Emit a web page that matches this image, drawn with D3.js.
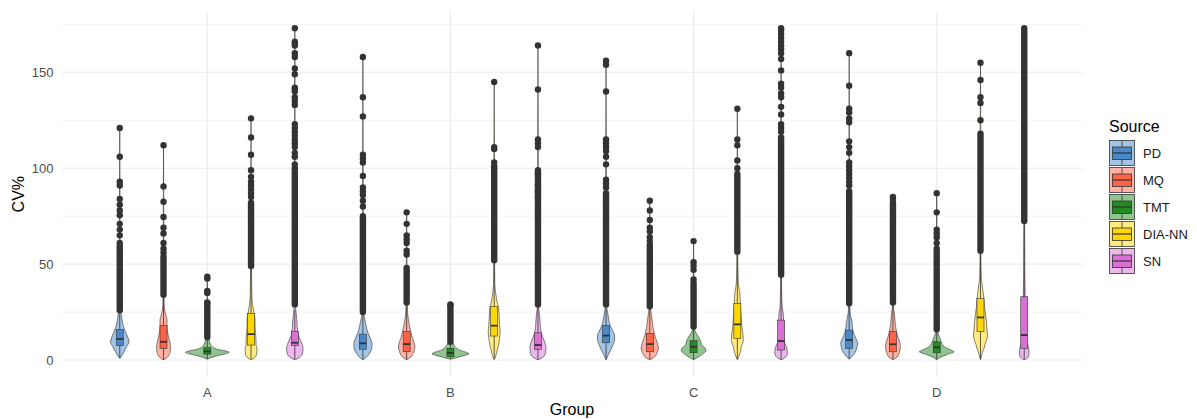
<!DOCTYPE html>
<html>
<head>
<meta charset="utf-8">
<script src="https://cdn.jsdelivr.net/npm/d3@7"></script>
<style>
  body { margin: 0; background: #fff; }
  svg { display: block; font-family: "Liberation Sans", Arial, sans-serif; }
</style>
</head>
<body>
<svg id="chart" width="1197" height="419"></svg>
<script>
const groups = ['A', 'B', 'C', 'D'];
const sources = ['PD', 'MQ', 'TMT', 'DIA-NN', 'SN'];
const sourceColors = ['#4a89c8', '#ff6347', '#228b22', '#ffd700', '#da70d6'];
const yTicks = [0, 50, 100, 150];
const yMinorTicks = [25, 75, 125, 175];

// box statistics, one row per group, one column per source
const whiskerLow = [
  [1, 0.3, 0.5, 0.3, 0.5],
  [0.3, 0.3, 0.5, 0.5, 0.3],
  [0.3, 0.3, 0.3, 0.5, 0.3],
  [0.5, 0.3, 0.3, 0.5, 0.3],
];
const q1 = [
  [7.5, 6, 3.1, 7.8, 7.5],
  [5.6, 4.3, 1.7, 12.5, 5.6],
  [9, 4.3, 3.8, 11.3, 5.2],
  [6.1, 4.3, 3.8, 14.8, 6.1],
];
const median = [
  [11, 9.5, 4.5, 13.5, 9],
  [8.7, 8.3, 3.7, 17.9, 7.8],
  [12.7, 8.3, 6.9, 18.6, 9.9],
  [10.4, 8.2, 6.6, 22.2, 13],
];
const q3 = [
  [16, 18, 6.4, 24.3, 14.8],
  [13.5, 14.8, 6.1, 28, 14.2],
  [17.9, 13.9, 10.1, 29.5, 20.8],
  [15.6, 14.8, 9.5, 32.1, 33],
];
const whiskerHigh = [
  [25, 33, 11, 48, 26],
  [24, 29, 9, 51, 28],
  [28, 27.5, 17, 56, 44],
  [29, 29, 15, 56, 72],
];

// stretches where outliers overlap into a solid column
const outlierRuns = [
  [[26, 61], [34, 54], [12, 29.5], [49, 82], [29, 100]],
  [[25, 75], [30, 48], [9.5, 28.5], [52, 101], [29, 98]],
  [[29, 87], [28, 60], [17.5, 40], [56.5, 97], [44.5, 116]],
  [[29.6, 88], [30, 82], [16, 58], [57, 118], [72.5, 173]],
];

// separate outliers above the columns
const outliers = [
  [
    [121, 106, 93, 91, 84, 81, 78, 75.5, 71, 68, 65],
    [112, 90.5, 82.5, 74.6, 69, 66, 61, 58, 56],
    [43.4, 42.5, 36, 35, 30],
    [126, 116, 107, 99, 95.5, 93, 91, 89, 87, 85],
    [173, 166, 165, 164, 160, 158, 152, 149, 142, 141, 140, 137, 135, 133, 123, 121, 119, 117, 115, 113, 111, 108, 106, 102],
  ],
  [
    [158, 137, 127, 107, 105, 103, 96, 90, 88, 86, 83, 80],
    [77, 71, 65, 63, 61, 57, 55],
    [29],
    [145, 111, 110, 103],
    [164, 141, 115, 113, 111, 99, 97, 91, 88, 85],
  ],
  [
    [156, 154, 140, 115, 113, 111, 109, 106, 102, 94, 92, 90],
    [83, 78, 73, 69, 67, 64, 62],
    [62, 51, 49, 47, 42],
    [131, 115, 112, 104, 100],
    [173, 172, 170, 168, 166, 164, 162, 160, 157, 151, 144, 142, 139, 137, 132, 128, 123, 121, 119],
  ],
  [
    [160, 143, 131, 129, 126, 124, 114, 111, 108, 103, 101, 99, 97, 95, 93, 91],
    [85, 84],
    [87, 77, 68, 66, 64, 61],
    [155, 146, 137, 134, 125],
    [],
  ],
];

// violin density profiles: [CV%, density]
const densities = [
  [
    [[1, 0.5], [4, 4], [7, 7], [9.5, 9.3], [12, 8], [15, 5.5], [18, 3.5], [22, 2], [26, 1], [35, 0.5], [61, 0.35], [121, 0]],
    [[0.3, 1], [1.5, 4], [4, 6.5], [6, 7], [9, 6.5], [12, 5], [15, 4], [18, 3.5], [21, 3.5], [23, 2.5], [26, 1.2], [30, 0.6], [54, 0.35], [112, 0]],
    [[0.5, 0.5], [1.5, 5], [2.5, 12], [3.5, 20], [4, 22], [4.8, 18], [5.5, 11], [6.5, 6], [8, 3.5], [10, 2], [15, 0.8], [29, 0.35], [44, 0]],
    [[0.3, 0.5], [1, 3], [3, 5.5], [6, 6], [8, 5], [10, 5], [14, 4.5], [18, 4], [22, 4], [24, 3], [26, 2.5], [29, 1.5], [35, 0.8], [48, 0.5], [82, 0.35], [126, 0]],
    [[0.3, 1], [1.5, 5], [3, 7.5], [6, 8.3], [8, 7.5], [10, 6], [13, 3.5], [17, 2.5], [21, 2], [25, 1.2], [29, 0.6], [100, 0.35], [173, 0]],
  ],
  [
    [[0.3, 0.5], [1, 2.5], [3, 6], [6, 8.8], [8, 9.2], [10, 8.5], [13, 6], [16, 4], [19, 2.8], [22, 1.5], [25, 0.6], [75, 0.35], [158, 0]],
    [[0.3, 0.5], [1.5, 4], [4, 7], [7, 8.3], [9, 7.5], [12, 5.5], [15, 4], [18, 2.8], [22, 1.5], [26, 0.8], [48, 0.35], [77, 0]],
    [[0.5, 1], [1.5, 8], [2.5, 15], [3.2, 18.5], [4, 16], [5, 10], [6, 6.5], [7.5, 4], [9.5, 2], [12, 0.8], [29, 0]],
    [[0.3, 0.3], [2, 1.5], [5, 3], [8, 4.5], [12, 5.5], [15, 6], [18, 5.5], [22, 5], [27, 4.5], [30, 3], [33, 2], [36, 1.2], [40, 0.6], [51, 0.4], [103, 0.3], [145, 0]],
    [[0.3, 1], [1.5, 5], [3.5, 7.5], [7, 8], [9, 7], [11, 5.5], [14, 3.5], [17, 2.5], [21, 2], [25, 1.2], [28, 0.6], [100, 0.35], [164, 0]],
  ],
  [
    [[0.3, 0.3], [1, 0.8], [3, 2.5], [5, 4.5], [8, 7], [11, 8.7], [13, 8.5], [16, 6], [19, 3.5], [22, 2.5], [25, 1.5], [28, 0.6], [88, 0.35], [156, 0]],
    [[0.3, 0.5], [1.5, 4.5], [4, 7.5], [6, 8.7], [9, 7.5], [12, 5.5], [15, 4], [18, 3], [22, 2], [25, 1.2], [28, 0.6], [60, 0.35], [83, 0]],
    [[0.3, 0.5], [1, 3], [2, 6], [3.5, 10], [5, 12.5], [6.5, 11], [8, 8], [10, 7], [12, 5], [14, 2.5], [16.5, 1], [40, 0.35], [62, 0]],
    [[0.3, 0.3], [2, 1.5], [4, 3], [7, 4], [9, 5.5], [11, 6], [14, 5.5], [18, 4.5], [22, 4], [25, 3.5], [30, 3], [35, 2.5], [40, 1], [56, 0.4], [98, 0.3], [131, 0]],
    [[0.3, 1], [1.5, 4.5], [3.5, 6.3], [6, 6], [8, 4.5], [10, 3], [14, 2.5], [20, 2.5], [25, 2], [28, 1], [44, 0.4], [116, 0.3], [173, 0]],
  ],
  [
    [[0.5, 0.3], [2, 3], [4, 6], [7, 8], [9, 8.5], [11, 7], [14, 4.5], [17, 3.3], [20, 2.8], [23, 1.5], [26, 0.8], [88, 0.35], [160, 0]],
    [[0.3, 0.5], [1.5, 4], [4, 6.5], [7, 7.5], [9, 7], [12, 5], [15, 3.5], [18, 2.5], [21, 2], [25, 1.2], [28, 0.6], [82, 0.35], [85, 0]],
    [[0.3, 0.5], [1.5, 4], [3, 11], [4.3, 17.5], [5.5, 13], [7, 7.5], [9, 5], [11, 3.5], [13, 2], [15, 1], [58, 0.35], [87, 0]],
    [[0.3, 0.3], [2, 1], [4, 2], [6, 3.5], [8, 4.5], [10, 6], [13, 7], [16, 6.5], [20, 6], [24, 5], [28, 4], [32, 3.5], [36, 2.5], [40, 1.5], [43, 0.8], [56, 0.4], [118, 0.3], [155, 0]],
    [[0.3, 1], [1.5, 4], [3.5, 4.8], [6, 4.5], [8, 3.5], [10, 2.5], [14, 1.5], [20, 1.2], [30, 1], [33, 0.9], [45, 0.6], [72, 0.4], [173.6, 0]],
  ],
];

function drawChart() {
  const svg = d3.select('#chart');
  const panelLeft = 61.4;
  const panelRight = 1082.6;
  const panelTop = 11.7;
  const panelBottom = 376.7;
  const ink = '#333333';

  const x0 = d3.scaleBand()
    .domain(groups)
    .range([panelLeft, panelRight])
    .paddingInner(0.1)
    .paddingOuter(0.15);
  const x1 = d3.scaleBand()
    .domain(sources)
    .range([0, x0.bandwidth()]);
  const y = d3.scaleLinear()
    .domain([-8.7, 181.6])
    .range([panelBottom, panelTop]);
  const halfWidth = d3.scaleLinear()
    .domain([0, 22])
    .range([0, x1.bandwidth() / 2]);
  const fill = d3.scaleOrdinal().domain(sources).range(sourceColors);
  const boxWidth = x1.bandwidth() * 0.16;

  // grid
  const grid = svg.append('g');
  grid.selectAll('line.minor')
    .data(yMinorTicks)
    .join('line')
    .attr('x1', panelLeft).attr('x2', panelRight)
    .attr('y1', d => y(d)).attr('y2', d => y(d))
    .attr('stroke', '#ebebeb').attr('stroke-width', 0.6);
  grid.selectAll('line.major')
    .data(yTicks)
    .join('line')
    .attr('x1', panelLeft).attr('x2', panelRight)
    .attr('y1', d => y(d)).attr('y2', d => y(d))
    .attr('stroke', '#ebebeb').attr('stroke-width', 1.1);
  grid.selectAll('line.vert')
    .data(groups)
    .join('line')
    .attr('x1', d => x0(d) + x0.bandwidth() / 2).attr('x2', d => x0(d) + x0.bandwidth() / 2)
    .attr('y1', panelTop).attr('y2', panelBottom)
    .attr('stroke', '#ebebeb').attr('stroke-width', 1.1);

  const cells = [];
  groups.forEach((g, gi) => {
    sources.forEach((s, si) => {
      cells.push({
        group: g, source: s,
        cx: x0(g) + x1(s) + x1.bandwidth() / 2,
        wl: whiskerLow[gi][si], q1: q1[gi][si], med: median[gi][si],
        q3: q3[gi][si], wh: whiskerHigh[gi][si],
        run: outlierRuns[gi][si], pts: outliers[gi][si], dens: densities[gi][si],
      });
    });
  });

  // violins
  svg.append('g')
    .selectAll('path')
    .data(cells)
    .join('path')
    .attr('d', c => d3.area()
      .y(d => y(d[0]))
      .x0(d => c.cx - halfWidth(d[1]))
      .x1(d => c.cx + halfWidth(d[1]))
      .curve(d3.curveMonotoneY)(c.dens))
    .attr('fill', c => fill(c.source))
    .attr('fill-opacity', 0.5)
    .attr('stroke', ink)
    .attr('stroke-width', 0.6);

  // boxplots
  const box = svg.append('g')
    .selectAll('g')
    .data(cells)
    .join('g');
  box.append('line')
    .attr('x1', c => c.cx).attr('x2', c => c.cx)
    .attr('y1', c => y(c.q3)).attr('y2', c => y(c.wh))
    .attr('stroke', ink).attr('stroke-width', 0.8);
  box.append('line')
    .attr('x1', c => c.cx).attr('x2', c => c.cx)
    .attr('y1', c => y(c.q1)).attr('y2', c => y(c.wl))
    .attr('stroke', ink).attr('stroke-width', 0.8);
  box.append('line')
    .attr('x1', c => c.cx).attr('x2', c => c.cx)
    .attr('y1', c => y(c.run[0])).attr('y2', c => y(c.run[1]))
    .attr('stroke', ink).attr('stroke-width', 6.4)
    .attr('stroke-linecap', 'round');
  box.selectAll('circle')
    .data(c => c.pts.map(v => ({ cx: c.cx, v })))
    .join('circle')
    .attr('cx', d => d.cx).attr('cy', d => y(d.v))
    .attr('r', 3.2)
    .attr('fill', ink);
  box.append('rect')
    .attr('x', c => c.cx - boxWidth / 2)
    .attr('width', boxWidth)
    .attr('y', c => y(c.q3))
    .attr('height', c => y(c.q1) - y(c.q3))
    .attr('fill', c => fill(c.source))
    .attr('stroke', ink).attr('stroke-width', 0.6);
  box.append('line')
    .attr('x1', c => c.cx - boxWidth / 2).attr('x2', c => c.cx + boxWidth / 2)
    .attr('y1', c => y(c.med)).attr('y2', c => y(c.med))
    .attr('stroke', ink).attr('stroke-width', 1.8);

  // axes text
  svg.append('g')
    .selectAll('text')
    .data(yTicks)
    .join('text')
    .attr('x', 53.5).attr('y', d => y(d)).attr('dy', '0.36em')
    .attr('text-anchor', 'end')
    .attr('font-size', 13).attr('fill', '#4d4d4d')
    .text(d => d);
  svg.append('g')
    .selectAll('text')
    .data(groups)
    .join('text')
    .attr('x', d => x0(d) + x0.bandwidth() / 2).attr('y', 396.5)
    .attr('text-anchor', 'middle')
    .attr('font-size', 13).attr('fill', '#4d4d4d')
    .text(d => d);
  svg.append('text')
    .attr('x', (panelLeft + panelRight) / 2).attr('y', 415)
    .attr('text-anchor', 'middle')
    .attr('font-size', 16).attr('fill', '#000')
    .text('Group');
  svg.append('text')
    .attr('transform', `translate(24,${(panelTop + panelBottom) / 2}) rotate(-90)`)
    .attr('text-anchor', 'middle')
    .attr('font-size', 16).attr('fill', '#000')
    .text('CV%');

  // legend
  const legend = svg.append('g').attr('transform', 'translate(1109,0)');
  legend.append('text')
    .attr('x', 0).attr('y', 131.5)
    .attr('font-size', 16).attr('fill', '#000')
    .text('Source');
  const key = legend.selectAll('g.key')
    .data(sources)
    .join('g')
    .attr('transform', (d, i) => `translate(0,${140 + i * 27})`);
  key.append('rect')
    .attr('x', 0.5).attr('y', 0.5).attr('width', 25).attr('height', 25)
    .attr('fill', d => fill(d)).attr('fill-opacity', 0.5)
    .attr('stroke', ink).attr('stroke-width', 0.8);
  key.append('line')
    .attr('x1', 13).attr('x2', 13).attr('y1', 1).attr('y2', 25)
    .attr('stroke', ink).attr('stroke-width', 0.8);
  key.append('rect')
    .attr('x', 3.5).attr('y', 7).attr('width', 19).attr('height', 12.5)
    .attr('fill', d => fill(d))
    .attr('stroke', ink).attr('stroke-width', 0.8);
  key.append('line')
    .attr('x1', 3.5).attr('x2', 22.5).attr('y1', 13).attr('y2', 13)
    .attr('stroke', ink).attr('stroke-width', 1.2);
  key.append('text')
    .attr('x', 34).attr('y', 13).attr('dy', '0.36em')
    .attr('font-size', 13).attr('fill', '#1a1a1a')
    .text(d => d);
}

window.addEventListener('load', drawChart);
</script>
</body>
</html>
